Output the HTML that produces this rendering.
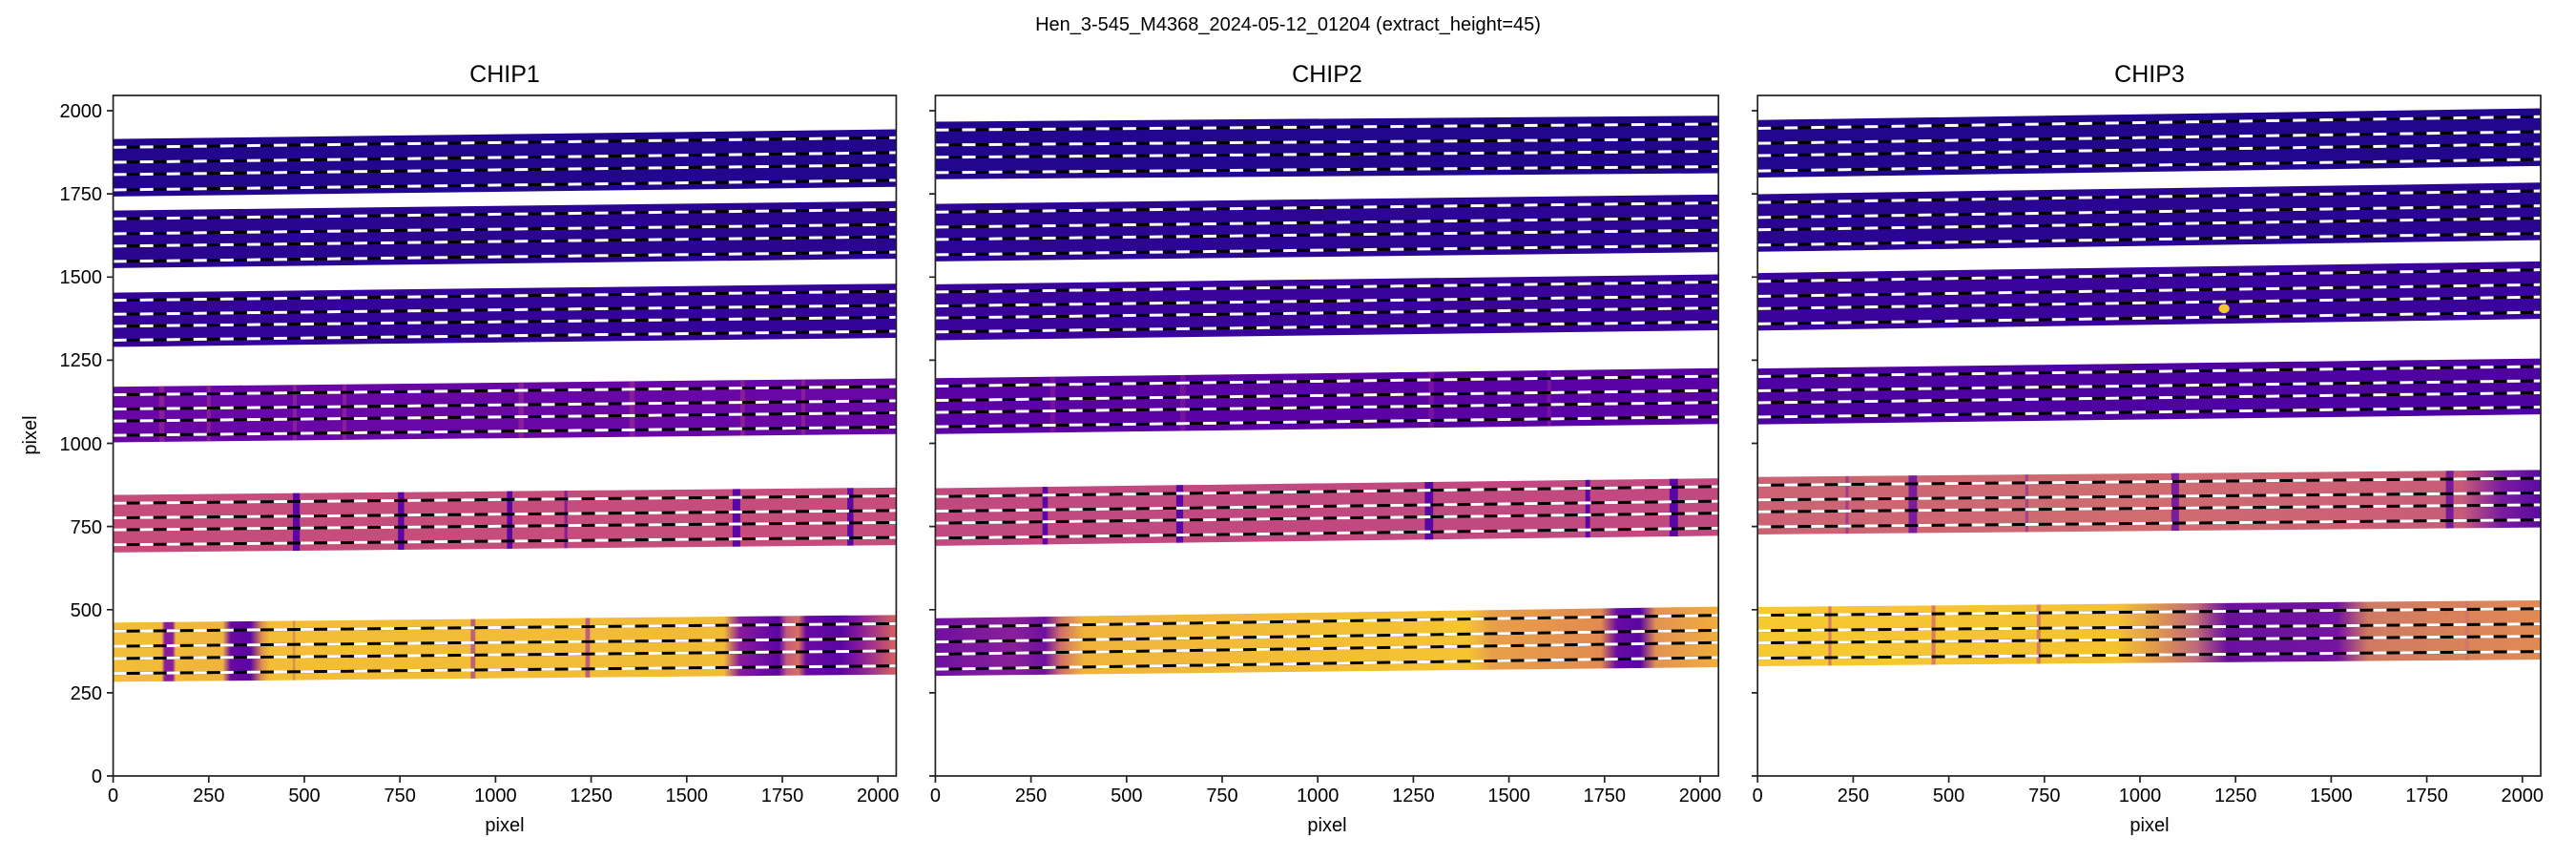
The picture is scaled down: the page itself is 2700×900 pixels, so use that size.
<!DOCTYPE html>
<html><head><meta charset="utf-8"><style>
html,body{margin:0;padding:0;background:#fff}
svg{display:block;font-family:"Liberation Sans","DejaVu Sans",sans-serif}
</style></head><body>
<svg width="2700" height="900" viewBox="0 0 2700 900" xmlns="http://www.w3.org/2000/svg">
<defs>
<linearGradient id="c1b6" gradientUnits="userSpaceOnUse" x1="0" x2="2048" y1="0" y2="0"><stop offset="0" stop-color="#f3bf35"/><stop offset=".062" stop-color="#f2bb36"/><stop offset=".066" stop-color="#8a1c9c"/><stop offset=".076" stop-color="#8a1c9c"/><stop offset=".08" stop-color="#f1b83a"/><stop offset=".14" stop-color="#f0b43c"/><stop offset=".15" stop-color="#6a08a2"/><stop offset=".175" stop-color="#5c05a4"/><stop offset=".19" stop-color="#e29248"/><stop offset=".2" stop-color="#f3bd35"/><stop offset=".78" stop-color="#f2bb36"/><stop offset=".8" stop-color="#8a1a9c"/><stop offset=".85" stop-color="#5c05a4"/><stop offset=".86" stop-color="#c05a80"/><stop offset=".875" stop-color="#d87060"/><stop offset=".885" stop-color="#6a08a2"/><stop offset=".93" stop-color="#5a06a4"/><stop offset=".955" stop-color="#8b1c9c"/><stop offset="1" stop-color="#d8645e"/></linearGradient>
<linearGradient id="c2b6" gradientUnits="userSpaceOnUse" x1="0" x2="2048" y1="0" y2="0"><stop offset="0" stop-color="#7010a2"/><stop offset=".1" stop-color="#8a2098"/><stop offset=".14" stop-color="#7010a2"/><stop offset=".16" stop-color="#d07068"/><stop offset=".19" stop-color="#f0b43c"/><stop offset=".68" stop-color="#f5c430"/><stop offset=".71" stop-color="#e8a048"/><stop offset=".85" stop-color="#e28a50"/><stop offset=".87" stop-color="#6a0aa2"/><stop offset=".9" stop-color="#5a06a4"/><stop offset=".92" stop-color="#e49250"/><stop offset="1" stop-color="#f0ae3c"/></linearGradient>
<linearGradient id="c3b6" gradientUnits="userSpaceOnUse" x1="0" x2="2048" y1="0" y2="0"><stop offset="0" stop-color="#f6c930"/><stop offset=".46" stop-color="#f4c133"/><stop offset=".5" stop-color="#e4a048"/><stop offset=".56" stop-color="#c06a78"/><stop offset=".6" stop-color="#6a10a0"/><stop offset=".74" stop-color="#7414a0"/><stop offset=".78" stop-color="#d07a62"/><stop offset="1" stop-color="#e08a55"/></linearGradient>
<linearGradient id="c3b5" gradientUnits="userSpaceOnUse" x1="0" x2="2048" y1="0" y2="0"><stop offset="0" stop-color="#cc6274"/><stop offset=".5" stop-color="#d06c70"/><stop offset=".9" stop-color="#c85a78"/><stop offset=".95" stop-color="#7a1ca0"/><stop offset="1" stop-color="#5c0aa2"/></linearGradient>
<clipPath id="k14" clipPathUnits="userSpaceOnUse"><polygon points="0,1170 2048,1195 2048,1028 0,1003"/></clipPath>
<clipPath id="k15" clipPathUnits="userSpaceOnUse"><polygon points="0,845 2048,867 2048,694 0,672"/></clipPath>
<clipPath id="k16" clipPathUnits="userSpaceOnUse"><polygon points="0,461 2048,484 2048,305 0,283"/></clipPath>
<clipPath id="k24" clipPathUnits="userSpaceOnUse"><polygon points="0,1196 2048,1226 2048,1058 0,1028"/></clipPath>
<clipPath id="k25" clipPathUnits="userSpaceOnUse"><polygon points="0,865 2048,895 2048,722 0,692"/></clipPath>
<clipPath id="k35" clipPathUnits="userSpaceOnUse"><polygon points="0,899 2048,920 2048,747 0,726"/></clipPath>
<clipPath id="k36" clipPathUnits="userSpaceOnUse"><polygon points="0,508 2048,528 2048,350 0,330"/></clipPath>
</defs>
<rect width="2700" height="900" fill="#fff"/>
<text x="1350" y="32" font-size="20" text-anchor="middle">Hen_3-545_M4368_2024-05-12_01204  (extract_height=45)</text>

<!-- CHIP1 -->
<g transform="translate(118.6,813) scale(0.40078,-0.3485)">
 <polygon points="0,1915 2048,1944 2048,1771 0,1742" fill="#22068e"/>
 <polygon points="0,1700 2048,1728 2048,1555 0,1527" fill="#2a0592"/>
 <polygon points="0,1453 2048,1480 2048,1317 0,1290" fill="#34049a"/>
 <polygon points="0,1170 2048,1195 2048,1028 0,1003" fill="#6806a6"/>
 <polygon points="0,845 2048,867 2048,694 0,672" fill="#c64c7c"/>
 <polygon points="0,461 2048,484 2048,305 0,283" fill="url(#c1b6)"/>
 <g clip-path="url(#k14)" fill="#a03090" opacity=".6"><rect x="120" y="900" width="14" height="400"/><rect x="245" y="900" width="10" height="400"/><rect x="470" y="900" width="10" height="400"/><rect x="600" y="900" width="10" height="400"/><rect x="1060" y="900" width="14" height="400"/><rect x="1350" y="900" width="14" height="400"/><rect x="1640" y="900" width="12" height="400"/><rect x="1800" y="900" width="10" height="400"/></g>
 <g clip-path="url(#k15)" fill="#5a06a4"><rect x="470" y="600" width="18" height="400"/><rect x="745" y="600" width="16" height="400"/><rect x="1030" y="600" width="14" height="400"/><rect x="1620" y="600" width="20" height="400"/><rect x="1920" y="600" width="16" height="400"/><rect x="1180" y="600" width="8" height="400" opacity=".6"/></g>
 <g clip-path="url(#k16)" fill="#b04a86" opacity=".8"><rect x="935" y="200" width="12" height="400"/><rect x="1235" y="200" width="12" height="400"/><rect x="470" y="200" width="6" height="400" opacity=".5"/></g>
 <g fill="none" stroke="#000" stroke-width="8.6">
  <path d="M0,1890 L2048,1919 M0,1845 L2048,1874 M0,1808 L2048,1837 M0,1762 L2048,1791"/>
  <path d="M0,1675 L2048,1703 M0,1630 L2048,1658 M0,1593 L2048,1621 M0,1547 L2048,1575"/>
  <path d="M0,1430 L2048,1457 M0,1388 L2048,1415 M0,1352 L2048,1379 M0,1310 L2048,1337"/>
  <path d="M0,1146 L2048,1171 M0,1103 L2048,1128 M0,1067 L2048,1092 M0,1024 L2048,1049"/>
  <path d="M0,820 L2048,842 M0,776 L2048,798 M0,740 L2048,762 M0,695 L2048,717"/>
  <path d="M0,435 L2048,458 M0,390 L2048,413 M0,353 L2048,376 M0,308 L2048,331"/>
 </g>
 <g fill="none" stroke="#fff" stroke-width="8.6" stroke-dasharray="35 35">
  <path d="M0,1890 L2048,1919 M0,1845 L2048,1874 M0,1808 L2048,1837 M0,1762 L2048,1791"/>
  <path d="M0,1675 L2048,1703 M0,1630 L2048,1658 M0,1593 L2048,1621 M0,1547 L2048,1575"/>
  <path d="M0,1430 L2048,1457 M0,1388 L2048,1415 M0,1352 L2048,1379 M0,1310 L2048,1337"/>
  <path d="M0,1146 L2048,1171 M0,1103 L2048,1128 M0,1067 L2048,1092 M0,1024 L2048,1049"/>
  <path d="M0,820 L2048,842 M0,776 L2048,798 M0,740 L2048,762 M0,695 L2048,717"/>
  <path d="M0,435 L2048,458 M0,390 L2048,413 M0,353 L2048,376 M0,308 L2048,331"/>
 </g>
</g>

<!-- CHIP2 -->
<g transform="translate(980.4,813) scale(0.40078,-0.3485)">
 <polygon points="0,1967 2048,1985 2048,1812 0,1794" fill="#22068e"/>
 <polygon points="0,1720 2048,1748 2048,1575 0,1547" fill="#2c0594"/>
 <polygon points="0,1478 2048,1508 2048,1340 0,1310" fill="#3a049c"/>
 <polygon points="0,1196 2048,1226 2048,1058 0,1028" fill="#5a02a4"/>
 <polygon points="0,865 2048,895 2048,722 0,692" fill="#c24880"/>
 <polygon points="0,474 2048,509 2048,327 0,301" fill="url(#c2b6)"/>
 <g clip-path="url(#k24)" fill="#8a1c9c" opacity=".6"><rect x="300" y="900" width="14" height="400"/><rect x="640" y="900" width="14" height="400"/><rect x="1290" y="900" width="14" height="400"/><rect x="1600" y="900" width="10" height="400"/></g>
 <g clip-path="url(#k25)" fill="#5a06a4"><rect x="280" y="600" width="14" height="400"/><rect x="630" y="600" width="18" height="400"/><rect x="1280" y="600" width="22" height="400"/><rect x="1700" y="600" width="12" height="400"/><rect x="1920" y="600" width="22" height="400"/></g>
 <g fill="none" stroke="#000" stroke-width="8.6">
  <path d="M0,1942 L2048,1960 M0,1897 L2048,1915 M0,1860 L2048,1878 M0,1814 L2048,1832"/>
  <path d="M0,1695 L2048,1723 M0,1650 L2048,1678 M0,1613 L2048,1641 M0,1567 L2048,1595"/>
  <path d="M0,1455 L2048,1485 M0,1413 L2048,1443 M0,1377 L2048,1407 M0,1335 L2048,1365"/>
  <path d="M0,1172 L2048,1202 M0,1129 L2048,1159 M0,1093 L2048,1123 M0,1050 L2048,1080"/>
  <path d="M0,840 L2048,870 M0,796 L2048,826 M0,760 L2048,790 M0,715 L2048,745"/>
  <path d="M0,448 L2048,483 M0,403 L2048,438 M0,366 L2048,401 M0,321 L2048,356"/>
 </g>
 <g fill="none" stroke="#fff" stroke-width="8.6" stroke-dasharray="35 35">
  <path d="M0,1942 L2048,1960 M0,1897 L2048,1915 M0,1860 L2048,1878 M0,1814 L2048,1832"/>
  <path d="M0,1695 L2048,1723 M0,1650 L2048,1678 M0,1613 L2048,1641 M0,1567 L2048,1595"/>
  <path d="M0,1455 L2048,1485 M0,1413 L2048,1443 M0,1377 L2048,1407 M0,1335 L2048,1365"/>
  <path d="M0,1172 L2048,1202 M0,1129 L2048,1159 M0,1093 L2048,1123 M0,1050 L2048,1080"/>
  <path d="M0,840 L2048,870 M0,796 L2048,826 M0,760 L2048,790 M0,715 L2048,745"/>
  <path d="M0,448 L2048,483 M0,403 L2048,438 M0,366 L2048,401 M0,321 L2048,356"/>
 </g>
</g>

<!-- CHIP3 -->
<g transform="translate(1842.2,813) scale(0.40078,-0.3485)">
 <polygon points="0,1972 2048,2007 2048,1834 0,1799" fill="#22068e"/>
 <polygon points="0,1749 2048,1784 2048,1611 0,1576" fill="#2a0592"/>
 <polygon points="0,1512 2048,1547 2048,1374 0,1339" fill="#3a049c"/>
 <polygon points="0,1225 2048,1255 2048,1087 0,1057" fill="#4e02a2"/>
 <polygon points="0,899 2048,920 2048,747 0,726" fill="url(#c3b5)"/>
 <polygon points="0,508 2048,528 2048,350 0,330" fill="url(#c3b6)"/>
 <g clip-path="url(#k35)" fill="#6a10a0" opacity=".85"><rect x="395" y="600" width="22" height="400"/><rect x="1082" y="600" width="20" height="400"/><rect x="1800" y="600" width="20" height="400"/><rect x="230" y="600" width="8" height="400" opacity=".5"/><rect x="700" y="600" width="8" height="400" opacity=".5"/></g>
 <g clip-path="url(#k36)" fill="#d06a70" opacity=".8"><rect x="185" y="200" width="8" height="400"/><rect x="455" y="200" width="10" height="400"/><rect x="730" y="200" width="10" height="400"/><rect x="1850" y="200" width="10" height="400" opacity=".6"/></g>
 <circle cx="1220" cy="1405" r="14" fill="#f5c830"/>
 <g fill="none" stroke="#000" stroke-width="8.6">
  <path d="M0,1947 L2048,1982 M0,1902 L2048,1937 M0,1865 L2048,1900 M0,1819 L2048,1854"/>
  <path d="M0,1724 L2048,1759 M0,1679 L2048,1714 M0,1642 L2048,1677 M0,1596 L2048,1631"/>
  <path d="M0,1487 L2048,1522 M0,1442 L2048,1477 M0,1405 L2048,1440 M0,1359 L2048,1394"/>
  <path d="M0,1201 L2048,1231 M0,1158 L2048,1188 M0,1122 L2048,1152 M0,1079 L2048,1109"/>
  <path d="M0,874 L2048,895 M0,830 L2048,851 M0,794 L2048,815 M0,749 L2048,770"/>
  <path d="M0,483 L2048,503 M0,437 L2048,457 M0,400 L2048,420 M0,354 L2048,374"/>
 </g>
 <g fill="none" stroke="#fff" stroke-width="8.6" stroke-dasharray="35 35">
  <path d="M0,1947 L2048,1982 M0,1902 L2048,1937 M0,1865 L2048,1900 M0,1819 L2048,1854"/>
  <path d="M0,1724 L2048,1759 M0,1679 L2048,1714 M0,1642 L2048,1677 M0,1596 L2048,1631"/>
  <path d="M0,1487 L2048,1522 M0,1442 L2048,1477 M0,1405 L2048,1440 M0,1359 L2048,1394"/>
  <path d="M0,1201 L2048,1231 M0,1158 L2048,1188 M0,1122 L2048,1152 M0,1079 L2048,1109"/>
  <path d="M0,874 L2048,895 M0,830 L2048,851 M0,794 L2048,815 M0,749 L2048,770"/>
  <path d="M0,483 L2048,503 M0,437 L2048,457 M0,400 L2048,420 M0,354 L2048,374"/>
 </g>
</g>

<!-- Axes frames -->
<g fill="none" stroke="#222" stroke-width="1.7">
 <rect x="118.6" y="100" width="820.8" height="713"/>
 <rect x="980.4" y="100" width="820.8" height="713"/>
 <rect x="1842.2" y="100" width="820.8" height="713"/>
</g>
<g font-size="25" text-anchor="middle">
 <text x="529" y="86">CHIP1</text><text x="1391" y="86">CHIP2</text><text x="2253" y="86">CHIP3</text>
</g>
<g stroke="#222" stroke-width="1.7">
 <path d="M112,813H118.6M112,725.9H118.6M112,638.8H118.6M112,551.6H118.6M112,464.5H118.6M112,377.4H118.6M112,290.3H118.6M112,203.1H118.6M112,116H118.6"/>
 <path d="M974,813H980.4M974,725.9H980.4M974,638.8H980.4M974,551.6H980.4M974,464.5H980.4M974,377.4H980.4M974,290.3H980.4M974,203.1H980.4M974,116H980.4"/>
 <path d="M1836,813H1842.2M1836,725.9H1842.2M1836,638.8H1842.2M1836,551.6H1842.2M1836,464.5H1842.2M1836,377.4H1842.2M1836,290.3H1842.2M1836,203.1H1842.2M1836,116H1842.2"/>
</g>
<g font-size="20" text-anchor="end">
 <text x="107" y="820">0</text><text x="107" y="733">250</text><text x="107" y="646">500</text><text x="107" y="559">750</text><text x="107" y="472">1000</text><text x="107" y="384">1250</text><text x="107" y="297">1500</text><text x="107" y="210">1750</text><text x="107" y="123">2000</text>
</g>
<text x="0" y="0" font-size="20" text-anchor="middle" transform="translate(38,456) rotate(-90)">pixel</text>
<g stroke="#222" stroke-width="1.7">
 <path d="M118.6,813V820M218.8,813V820M319,813V820M419.2,813V820M519.4,813V820M619.6,813V820M719.8,813V820M820,813V820M920.2,813V820"/>
 <path d="M980.4,813V820M1080.6,813V820M1180.8,813V820M1281,813V820M1381.2,813V820M1481.4,813V820M1581.6,813V820M1681.8,813V820M1782,813V820"/>
 <path d="M1842.2,813V820M1942.4,813V820M2042.6,813V820M2142.8,813V820M2243,813V820M2343.2,813V820M2443.4,813V820M2543.6,813V820M2643.8,813V820"/>
</g>
<g font-size="20" text-anchor="middle">
 <text x="118.6" y="840">0</text><text x="218.8" y="840">250</text><text x="319" y="840">500</text><text x="419.2" y="840">750</text><text x="519.4" y="840">1000</text><text x="619.6" y="840">1250</text><text x="719.8" y="840">1500</text><text x="820" y="840">1750</text><text x="920.2" y="840">2000</text>
 <text x="980.4" y="840">0</text><text x="1080.6" y="840">250</text><text x="1180.8" y="840">500</text><text x="1281" y="840">750</text><text x="1381.2" y="840">1000</text><text x="1481.4" y="840">1250</text><text x="1581.6" y="840">1500</text><text x="1681.8" y="840">1750</text><text x="1782" y="840">2000</text>
 <text x="1842.2" y="840">0</text><text x="1942.4" y="840">250</text><text x="2042.6" y="840">500</text><text x="2142.8" y="840">750</text><text x="2243" y="840">1000</text><text x="2343.2" y="840">1250</text><text x="2443.4" y="840">1500</text><text x="2543.6" y="840">1750</text><text x="2643.8" y="840">2000</text>
 <text x="529" y="871">pixel</text><text x="1391" y="871">pixel</text><text x="2253" y="871">pixel</text>
</g>
</svg>
</body></html>
